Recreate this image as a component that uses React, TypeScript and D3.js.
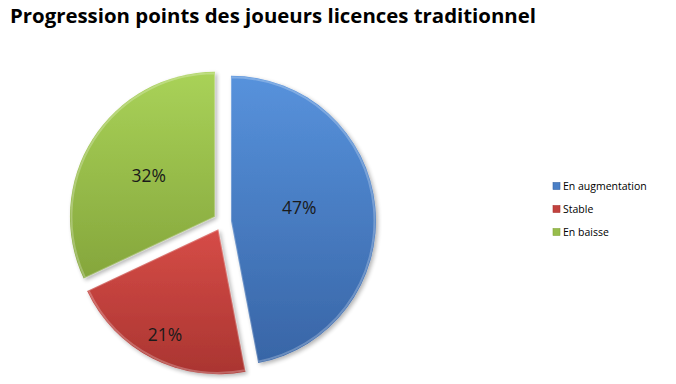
import React from "react";
import * as d3 from "d3";

const categories = ["En augmentation", "Stable", "En baisse"];
const values = [47, 21, 32];
const labels = ["47%", "21%", "32%"];
const topColors = ["#5792dc", "#d64c47", "#a9d258"];
const bottomColors = ["#3865a6", "#aa3531", "#85a63c"];
const baseColors = ["#4a7fc6", "#c2423e", "#97bd4b"];
const labelRadiusFraction = [0.48, 0.81, 0.54];
const labelAngleShiftDeg = [-6, 0, 0];

const W = 676;
const H = 384;
const cx = 222.3;
const cy = 221.5;
const R = 145;
const explode = 8.7;

export default function App() {
  const pie = d3.pie<number>().sort(null).value((d) => d);
  const arcs = pie(values);
  const arcGen = d3.arc<d3.PieArcDatum<number>>().innerRadius(0).outerRadius(R);
  const innerGen = d3.arc<d3.PieArcDatum<number>>().innerRadius(0).outerRadius(R - 1.5);

  return (
    <svg width={W} height={H} style={{ position: "absolute", left: 0, top: 0, background: "#fff" }}>
      <defs>
        {arcs.map((a, i) => (
          <linearGradient key={i} id={`g${i}`} x1="0" y1="0" x2="0" y2="1">
            <stop offset="0%" stopColor={topColors[i]} />
            <stop offset="100%" stopColor={bottomColors[i]} />
          </linearGradient>
        ))}
        <filter id="sh" x="-10%" y="-10%" width="130%" height="130%">
          <feGaussianBlur in="SourceAlpha" stdDeviation="2" />
          <feOffset dx="1.5" dy="2" result="b" />
          <feComponentTransfer>
            <feFuncA type="linear" slope="0.3" />
          </feComponentTransfer>
          <feMerge>
            <feMergeNode />
            <feMergeNode in="SourceGraphic" />
          </feMerge>
        </filter>
      </defs>
      <text
        x={10}
        y={23}
        fontFamily="'Open Sans', 'DejaVu Sans', sans-serif"
        fontWeight="bold"
        fontSize={20}
        textLength={526}
        lengthAdjust="spacingAndGlyphs"
        fill="#000"
      >
        Progression points des joueurs licences traditionnel
      </text>
      <g transform={`translate(${cx},${cy})`}>
        {arcs.map((a, i) => {
          const mid = (a.startAngle + a.endAngle) / 2;
          const ox = explode * Math.sin(mid);
          const oy = -explode * Math.cos(mid);
          const la = mid + (labelAngleShiftDeg[i] * Math.PI) / 180;
          const lr = R * labelRadiusFraction[i];
          const lx = lr * Math.sin(la);
          const ly = -lr * Math.cos(la);
          return (
            <g key={i} transform={`translate(${ox},${oy})`}>
              <path d={arcGen(a) || ""} fill={`url(#g${i})`} filter="url(#sh)" />
              <path d={innerGen(a) || ""} fill="none" stroke="#ffffff" strokeOpacity={0.25} strokeWidth={2} />
              <text
                x={lx}
                y={ly}
                textAnchor="middle"
                dominantBaseline="central"
                fontFamily="'Open Sans', 'DejaVu Sans', sans-serif"
                fontSize={17.5}
                fill="#1a1a1a"
              >
                {labels[i]}
              </text>
            </g>
          );
        })}
      </g>
      <g>
        {categories.map((c, i) => (
          <g key={c} transform={`translate(553, ${186 + i * 23})`}>
            <rect x={0} y={-3.5} width={7} height={7} fill={baseColors[i]} stroke={bottomColors[i]} strokeWidth={0.6} />
            <text
              x={10}
              y={0}
              dominantBaseline="central"
              fontFamily="'Open Sans', 'DejaVu Sans', sans-serif"
              fontSize={10.5}
              fill="#000"
            >
              {c}
            </text>
          </g>
        ))}
      </g>
    </svg>
  );
}
